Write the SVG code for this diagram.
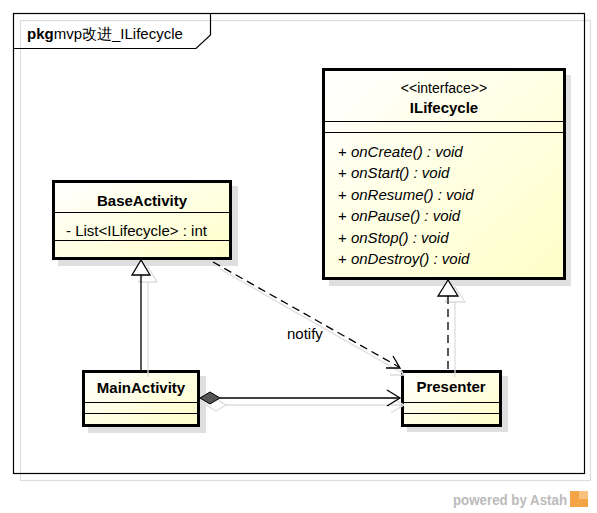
<svg xmlns="http://www.w3.org/2000/svg" width="597" height="513" viewBox="0 0 597 513">
<defs>
<linearGradient id="fill" x1="0" y1="0" x2="1" y2="1">
<stop offset="0" stop-color="#FFFFFF"/>
<stop offset="1" stop-color="#FFFFC8"/>
</linearGradient>
<style>
text{font-family:"Liberation Sans",Arial,sans-serif;font-size:15px;fill:#000}
.b{font-weight:bold}
.i{font-style:italic}
.box{fill:url(#fill);stroke:#000;stroke-width:3}
.sh{fill:#DFDFDF;stroke:none}
.sep{stroke:#000;stroke-width:1}
.line{stroke:#000;stroke-width:1.3;fill:none}
.dash{stroke:#000;stroke-width:1.3;fill:none;stroke-dasharray:8,5}
.gl{stroke:#DDDDDD;stroke-width:1.3;fill:none}
</style>
</defs>
<rect width="597" height="513" fill="#FFFFFF"/>
<g id="frame">
<rect x="20.5" y="20.5" width="570" height="460" fill="none" stroke="#DDDDDD" stroke-width="1.2"/>
<rect x="13.5" y="13.5" width="571" height="460" fill="none" stroke="#000" stroke-width="1.2"/>
<polyline points="13.5,48.5 196,48.5 210.5,35 210.5,13.5" fill="none" stroke="#000" stroke-width="1.2"/>
<text x="27" y="39"><tspan class="b">pkg</tspan>mvp改进_ILifecycle</text>
</g>
<g id="ILifecycle">
<rect class="sh" x="329" y="75" width="242" height="211"/>
<rect class="box" x="323.5" y="69.5" width="241" height="209"/>
<line class="sep" x1="323" y1="121.5" x2="565" y2="121.5"/>
<line class="sep" x1="323" y1="132.5" x2="565" y2="132.5"/>
<text x="444" y="93" text-anchor="middle" style="font-size:14px">&lt;&lt;interface&gt;&gt;</text>
<text class="b" x="444" y="113" text-anchor="middle">ILifecycle</text>
<text x="338" y="157">+ <tspan class="i">onCreate() : void</tspan></text>
<text x="338" y="178">+ <tspan class="i">onStart() : void</tspan></text>
<text x="338" y="200">+ <tspan class="i">onResume() : void</tspan></text>
<text x="338" y="221">+ <tspan class="i">onPause() : void</tspan></text>
<text x="338" y="243">+ <tspan class="i">onStop() : void</tspan></text>
<text x="338" y="264">+ <tspan class="i">onDestroy() : void</tspan></text>
</g>
<g id="BaseActivity">
<rect class="sh" x="58" y="186" width="180" height="80"/>
<rect class="box" x="53.5" y="181.5" width="177" height="77"/>
<line class="sep" x1="53" y1="212.5" x2="231" y2="212.5"/>
<line class="sep" x1="53" y1="240.5" x2="231" y2="240.5"/>
<text class="b" x="142" y="206" text-anchor="middle">BaseActivity</text>
<text x="66" y="236">- List&lt;ILifecycle&gt; : int</text>
</g>
<g id="MainActivity">
<rect class="sh" x="88" y="376" width="118" height="57"/>
<rect class="box" x="83.5" y="371.5" width="115" height="54"/>
<line class="sep" x1="83" y1="402.5" x2="199" y2="402.5"/>
<line class="sep" x1="83" y1="413.5" x2="199" y2="413.5"/>
<text class="b" x="141" y="393" text-anchor="middle">MainActivity</text>
</g>
<g id="Presenter">
<rect class="sh" x="407" y="376" width="101" height="56"/>
<rect class="box" x="402.5" y="371.5" width="98" height="54"/>
<line class="sep" x1="402" y1="402.5" x2="501" y2="402.5"/>
<line class="sep" x1="402" y1="413.5" x2="501" y2="413.5"/>
<text class="b" x="451" y="392" text-anchor="middle">Presenter</text>
</g>
<g id="connectors">
<line class="gl" x1="148" y1="282" x2="148" y2="377"/>
<polygon class="gl" points="148,267 139,282 157,282"/>
<line class="gl" x1="455" y1="302" x2="455" y2="377"/>
<polygon class="gl" points="455,287 445,302 465,302"/>
<line class="gl" x1="220" y1="269" x2="404" y2="374"/>
<polyline class="gl" points="396,362 404,375 390,375"/>
<polygon class="gl" points="206,405 216,399 226,405 216,411"/>
<line class="gl" x1="226" y1="405" x2="404" y2="405"/>
<polyline class="gl" points="391,397 404,405 391,413"/>
<line class="line" x1="141" y1="275" x2="141" y2="370"/>
<polygon points="141,260 132,275 150,275" fill="#FFFFFF" stroke="#000" stroke-width="1.3"/>
<line class="dash" x1="448" y1="296" x2="448" y2="370"/>
<polygon points="448,280 438,296 458,296" fill="#FFFFFF" stroke="#000" stroke-width="1.3"/>
<line class="dash" x1="213" y1="262" x2="399" y2="367"/>
<polyline class="line" points="393,356 400,368 386,368"/>
<text x="287" y="339">notify</text>
<polygon points="200,398 210,392 220,398 210,404" fill="#555555" stroke="#000" stroke-width="1"/>
<line class="line" x1="220" y1="398" x2="400" y2="398"/>
<polyline class="line" points="387,390 400,398 387,406"/>
</g>
<g id="logo">
<text x="453" y="505" textLength="114" lengthAdjust="spacingAndGlyphs" style="font-size:14px;font-weight:bold;fill:#BBBBBB">powered by Astah</text>
<rect x="570" y="491" width="18" height="16" fill="#F4A445"/>
<rect x="579" y="491" width="9" height="8" fill="#F8C27E"/>
</g>
</svg>
